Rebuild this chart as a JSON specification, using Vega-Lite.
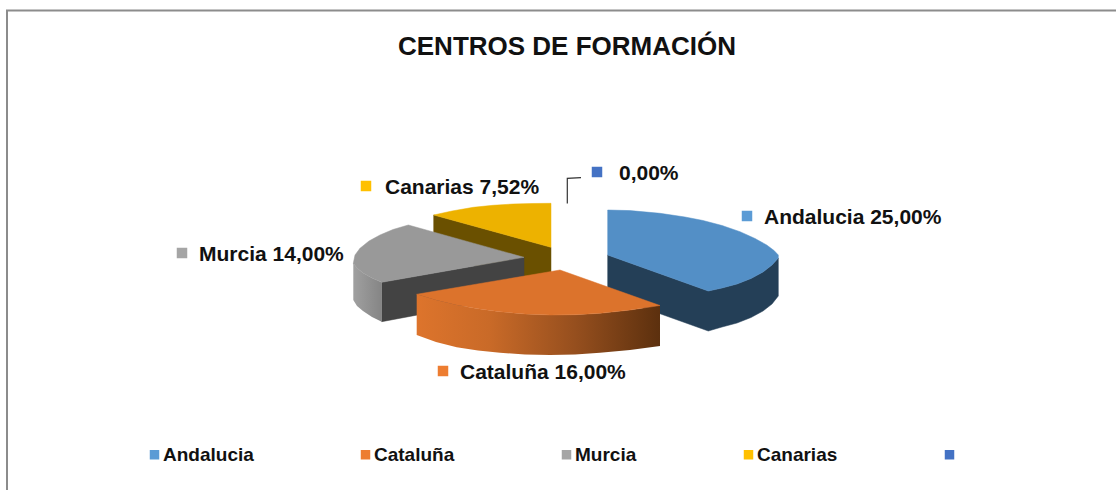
{"$schema":"https://vega.github.io/schema/vega-lite/v6.json","width":1116,"height":490,"padding":0,"autosize":{"type":"none"},"background":"white","view":{"stroke":null},
"datasets":{
"marco":[{"x":7,"y":490},{"x":7,"y":10.5},{"x":1116,"y":10.5}],
"guia":[{"x":567.3,"y":203.5},{"x":567.3,"y":178.3},{"x":581,"y":177.7}],
"canarias_pared":[{"x":433.7,"y":215},{"x":551,"y":247.3},{"x":551,"y":287},{"x":433.7,"y":255}],
"canarias_sup":[{"x":551,"y":203.3},{"x":551,"y":247.3},{"x":433.7,"y":215},{"x":452,"y":211},{"x":473.3,"y":207.3},{"x":493,"y":205.3},{"x":513.3,"y":204},{"x":532,"y":203.5}],
"murcia_int":[{"x":381.7,"y":282.3},{"x":524,"y":257.3},{"x":524,"y":295},{"x":381.7,"y":321.7}],
"murcia_ext":[{"x":353.3,"y":263.3},{"x":357,"y":268},{"x":363,"y":273},{"x":372,"y":278},{"x":381.7,"y":282.3},{"x":381.7,"y":321.7},{"x":372,"y":317},{"x":363,"y":311},{"x":357,"y":306},{"x":353.3,"y":300}],
"murcia_sup":[{"x":524,"y":257.3},{"x":408.3,"y":225},{"x":393,"y":229.5},{"x":380,"y":235},{"x":369,"y":241},{"x":360,"y":248.3},{"x":355,"y":255},{"x":353.3,"y":263.3},{"x":357,"y":268},{"x":363,"y":273},{"x":372,"y":278},{"x":381.7,"y":282.3}],
"andalucia_pared":[{"x":607.7,"y":255},{"x":708.3,"y":291},{"x":722,"y":288},{"x":737,"y":284},{"x":751,"y":278.5},{"x":763,"y":272},{"x":772,"y":265},{"x":778.3,"y":258},{"x":778.3,"y":296},{"x":772,"y":304},{"x":763,"y":311},{"x":751,"y":317.5},{"x":737,"y":323},{"x":722,"y":327},{"x":708.3,"y":331},{"x":607.7,"y":295}],
"andalucia_sup":[{"x":607.7,"y":210},{"x":630,"y":210.6},{"x":660,"y":213.3},{"x":685,"y":217},{"x":703,"y":220.5},{"x":722,"y":225.5},{"x":740,"y":231.7},{"x":755,"y":238.5},{"x":766.7,"y":245},{"x":774,"y":250.5},{"x":778.3,"y":255},{"x":778.3,"y":258},{"x":772,"y":265},{"x":763,"y":272},{"x":751,"y":278.5},{"x":737,"y":284},{"x":722,"y":288},{"x":708.3,"y":291},{"x":607.7,"y":255}],
"cataluna_pared":[{"x":416.7,"y":294.3},{"x":436,"y":300},{"x":456.7,"y":305},{"x":478,"y":308.7},{"x":500,"y":311.7},{"x":525,"y":314},{"x":550,"y":315},{"x":575,"y":314.7},{"x":600,"y":313.3},{"x":630,"y":310},{"x":660,"y":305.5},{"x":660,"y":346},{"x":630,"y":350},{"x":600,"y":352.7},{"x":575,"y":354.5},{"x":550,"y":355},{"x":525,"y":354.5},{"x":500,"y":352.7},{"x":478,"y":350.5},{"x":456.7,"y":347.3},{"x":436,"y":342},{"x":416.7,"y":335}],
"cataluna_sup":[{"x":560,"y":270},{"x":660,"y":305.5},{"x":630,"y":310},{"x":600,"y":313.3},{"x":575,"y":314.7},{"x":550,"y":315},{"x":525,"y":314},{"x":500,"y":311.7},{"x":478,"y":308.7},{"x":456.7,"y":305},{"x":436,"y":300},{"x":416.7,"y":294.3}],
"etiquetas":[
{"serie":"Andalucia","texto":"Andalucia  25,00%","mx":747,"my":216,"x":764,"y":218},
{"serie":"Cataluña","texto":"Cataluña  16,00%","mx":443,"my":371,"x":460,"y":373},
{"serie":"Murcia","texto":"Murcia  14,00%","mx":182,"my":253,"x":199,"y":255},
{"serie":"Canarias","texto":"Canarias  7,52%","mx":366,"my":186,"x":385,"y":188},
{"serie":" ","texto":"0,00%","mx":597,"my":172,"x":619,"y":174}]
},
"encoding":{"x":{"field":"x","type":"quantitative","scale":{"domain":[0,1116]},"axis":null},"y":{"field":"y","type":"quantitative","scale":{"domain":[490,0]},"axis":null}},
"layer":[
{"data":{"name":"marco"},"mark":{"type":"line","stroke":"#8c8c8c","strokeWidth":2},"encoding":{"order":{"value":null}}},
{"data":{"name":"guia"},"mark":{"type":"line","stroke":"#333333","strokeWidth":1.2},"encoding":{"order":{"value":null}}},
{"data":{"name":"canarias_pared"},"mark":{"type":"line","interpolate":"linear-closed","fill":"#6a5000","stroke":"#6a5000","strokeWidth":0.5},"encoding":{"order":{"value":null}}},
{"data":{"name":"canarias_sup"},"mark":{"type":"line","interpolate":"linear-closed","fill":"#edb200","stroke":"#edb200","strokeWidth":0.5},"encoding":{"order":{"value":null}}},
{"data":{"name":"murcia_int"},"mark":{"type":"line","interpolate":"linear-closed","fill":"#434343","stroke":"#434343","strokeWidth":0.5},"encoding":{"order":{"value":null}}},
{"data":{"name":"murcia_ext"},"mark":{"type":"line","interpolate":"linear-closed","fill":{"gradient":"linear","x1":0,"x2":1,"y1":0,"y2":0,"stops":[{"offset":0,"color":"#a0a0a0"},{"offset":1,"color":"#858585"}]},"strokeWidth":0},"encoding":{"order":{"value":null}}},
{"data":{"name":"murcia_sup"},"mark":{"type":"line","interpolate":"linear-closed","fill":"#999999","stroke":"#999999","strokeWidth":0.5},"encoding":{"order":{"value":null}}},
{"data":{"name":"andalucia_pared"},"mark":{"type":"line","interpolate":"linear-closed","fill":"#243f57","stroke":"#243f57","strokeWidth":0.5},"encoding":{"order":{"value":null}}},
{"data":{"name":"andalucia_sup"},"mark":{"type":"line","interpolate":"linear-closed","fill":"#538fc6","stroke":"#538fc6","strokeWidth":0.5},"encoding":{"order":{"value":null}}},
{"data":{"name":"cataluna_pared"},"mark":{"type":"line","interpolate":"linear-closed","fill":{"gradient":"linear","x1":0,"x2":1,"y1":0,"y2":0,"stops":[{"offset":0,"color":"#dd742c"},{"offset":0.3,"color":"#c96a28"},{"offset":0.65,"color":"#964f1e"},{"offset":1,"color":"#5c300e"}]},"strokeWidth":0},"encoding":{"order":{"value":null}}},
{"data":{"name":"cataluna_sup"},"mark":{"type":"line","interpolate":"linear-closed","fill":"#dc732c","stroke":"#dc732c","strokeWidth":0.5},"encoding":{"order":{"value":null}}},
{"data":{"name":"etiquetas"},"mark":{"type":"point","shape":"square","filled":true,"size":110,"opacity":1},
 "encoding":{"x":{"field":"mx","type":"quantitative"},"y":{"field":"my","type":"quantitative"},
 "color":{"field":"serie","type":"nominal","scale":{"domain":["Andalucia","Cataluña","Murcia","Canarias"," "],"range":["#5b9bd5","#ed7d31","#a5a5a5","#ffc000","#4472c4"]},
 "legend":{"title":null,"orient":"none","legendX":145,"legendY":445,"direction":"horizontal","columns":5,"columnPadding":102,"symbolType":"square","symbolSize":90,"symbolOpacity":1,"labelFont":"Liberation Sans","labelFontWeight":"bold","labelFontSize":19,"labelColor":"#111111","labelLimit":300,"labelOffset":-1}}}},
{"data":{"name":"etiquetas"},"mark":{"type":"text","align":"left","baseline":"middle","font":"Liberation Sans","fontWeight":"bold","fontSize":21,"color":"#111111"},"encoding":{"text":{"field":"texto"}}},
{"data":{"values":[{"x":567,"y":47,"texto":"CENTROS DE FORMACIÓN"}]},"mark":{"type":"text","align":"center","baseline":"middle","font":"Liberation Sans","fontWeight":"bold","fontSize":26,"color":"#111111"},"encoding":{"text":{"field":"texto"}}}
]}
